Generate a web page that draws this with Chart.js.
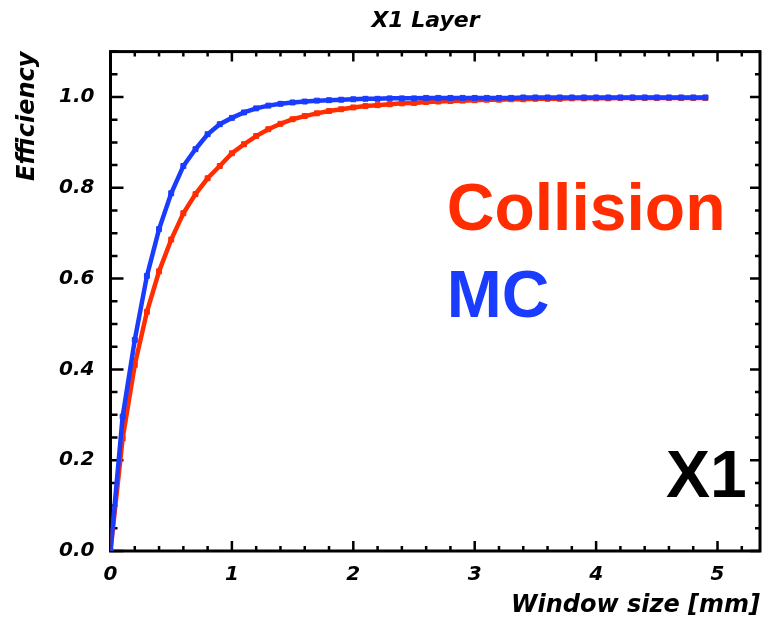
<!DOCTYPE html>
<html>
<head>
<meta charset="utf-8">
<script src="https://cdn.jsdelivr.net/npm/chart.js@4.4.1/dist/chart.umd.min.js"></script>
<style>
  html, body { margin: 0; padding: 0; background: #ffffff; }
  #wrap { width: 765px; height: 624px; }
</style>
</head>
<body>
<div id="wrap"><canvas id="c" width="765" height="624"></canvas></div>
<script>
// ---- data ----
const windowSize = [0.0, 0.1, 0.2, 0.3, 0.4, 0.5, 0.6, 0.7, 0.8, 0.9,
                    1.0, 1.1, 1.2, 1.3, 1.4, 1.5, 1.6, 1.7, 1.8, 1.9,
                    2.0, 2.1, 2.2, 2.3, 2.4, 2.5, 2.6, 2.7, 2.8, 2.9,
                    3.0, 3.1, 3.2, 3.3, 3.4, 3.5, 3.6, 3.7, 3.8, 3.9,
                    4.0, 4.1, 4.2, 4.3, 4.4, 4.5, 4.6, 4.7, 4.8, 4.9];
const collisionEff = [0.000, 0.248, 0.410, 0.527, 0.616, 0.686, 0.744, 0.786, 0.821, 0.848,
                      0.876, 0.896, 0.914, 0.929, 0.941, 0.951, 0.958, 0.964, 0.969, 0.973,
                      0.977, 0.980, 0.982, 0.984, 0.986, 0.987, 0.989, 0.990, 0.991, 0.992,
                      0.993, 0.994, 0.994, 0.995, 0.995, 0.996, 0.996, 0.996, 0.997, 0.997,
                      0.997, 0.997, 0.998, 0.998, 0.998, 0.998, 0.998, 0.998, 0.998, 0.998];
const mcEff = [0.000, 0.296, 0.465, 0.606, 0.709, 0.788, 0.848, 0.885, 0.918, 0.940,
               0.954, 0.966, 0.975, 0.981, 0.985, 0.988, 0.990, 0.992, 0.993, 0.994,
               0.995, 0.996, 0.996, 0.997, 0.997, 0.997, 0.998, 0.998, 0.998, 0.998,
               0.998, 0.998, 0.998, 0.998, 0.999, 0.999, 0.999, 0.999, 0.999, 0.999,
               0.999, 0.999, 0.999, 0.999, 0.999, 0.999, 0.999, 0.999, 0.999, 0.999];
const xTickLabels = [0, 1, 2, 3, 4, 5];
const yTickLabels = [0.0, 0.2, 0.4, 0.6, 0.8, 1.0];
const seriesNames = ['Collision', 'MC'];
const titleText = 'X1 Layer';
const xTitle = 'Window size [mm]';
const yTitle = 'Efficiency';
const panelLabel = 'X1';

// ---- styles ----
const RED = '#ff2d00';
const BLUE = '#1a3cff';
const AX_FONT = 'DejaVu Sans';
const BIG_FONT = 'Liberation Sans';

const toPts = (xs, ys) => xs.map((x, i) => ({ x: x, y: ys[i] }));

// frame + inward ticks (ROOT style), annotations and title
const framePlugin = {
  id: 'frame',
  beforeDatasetsDraw(chart) {
    const { ctx, chartArea: a, scales } = chart;
    const xs = scales.x, ys = scales.y;
    ctx.save();
    ctx.strokeStyle = '#000';
    ctx.lineWidth = 2.5;
    ctx.lineCap = 'butt';
    for (let k = 0; k * 0.2 <= xs.max + 1e-9; k++) {
      const v = k * 0.2;
      const major = (k % 5 === 0);
      const px = xs.getPixelForValue(v);
      const L = major ? 10 : 5;
      ctx.beginPath();
      ctx.moveTo(px, a.bottom); ctx.lineTo(px, a.bottom - L);
      ctx.moveTo(px, a.top); ctx.lineTo(px, a.top + L);
      ctx.stroke();
    }
    for (let k = 0; k * 0.05 <= ys.max + 1e-9; k++) {
      const v = k * 0.05;
      const major = (k % 4 === 0);
      const py = ys.getPixelForValue(v);
      ctx.beginPath();
      ctx.moveTo(a.left, py); ctx.lineTo(a.left + (major ? 13 : 7), py);
      ctx.moveTo(a.right, py); ctx.lineTo(a.right - (major ? 10 : 5), py);
      ctx.stroke();
    }
    ctx.lineWidth = 3;
    ctx.strokeRect(a.left, a.top, a.right - a.left, a.bottom - a.top);
    ctx.restore();
  },
  afterDatasetsDraw(chart) {
    const { ctx, scales, chartArea: a } = chart;
    const xs = scales.x, ys = scales.y;
    ctx.save();
    ctx.textBaseline = 'alphabetic';
    ctx.font = 'bold 66px "' + BIG_FONT + '"';
    ctx.textAlign = 'left';
    ctx.fillStyle = RED;
    ctx.fillText(seriesNames[0], xs.getPixelForValue(2.77), ys.getPixelForValue(0.707));
    ctx.fillStyle = BLUE;
    ctx.fillText(seriesNames[1], xs.getPixelForValue(2.77), ys.getPixelForValue(0.516));
    ctx.fillStyle = '#000';
    ctx.textAlign = 'right';
    ctx.fillText(panelLabel, xs.getPixelForValue(5.24), ys.getPixelForValue(0.119));
    // title
    ctx.font = 'italic bold 22px "' + AX_FONT + '"';
    ctx.textAlign = 'center';
    ctx.textBaseline = 'middle';
    ctx.fillText(titleText, a.left + (a.right - a.left) * 0.485, 21);
    ctx.restore();
  }
};

new Chart(document.getElementById('c'), {
  type: 'line',
  data: {
    datasets: [
      {
        label: seriesNames[1],
        data: toPts(windowSize, mcEff),
        borderColor: BLUE, backgroundColor: BLUE,
        borderWidth: 4.5, pointStyle: 'rect', pointRadius: 3.5, pointBorderWidth: 1,
        tension: 0, order: 0
      },
      {
        label: seriesNames[0],
        data: toPts(windowSize, collisionEff),
        borderColor: RED, backgroundColor: RED,
        borderWidth: 4.5, pointStyle: 'rect', pointRadius: 3.5, pointBorderWidth: 1,
        tension: 0, order: 1
      }
    ]
  },
  options: {
    responsive: false,
    devicePixelRatio: 1,
    animation: false,
    layout: { padding: { left: 0, right: 5, top: 51.6, bottom: 0 } },
    plugins: {
      legend: { display: false },
      tooltip: { enabled: false },
      title: { display: false }
    },
    scales: {
      x: {
        type: 'linear', min: 0, max: 5.35,
        grid: { display: false, drawTicks: false },
        border: { display: false },
        afterBuildTicks: (s) => { s.ticks = xTickLabels.map(v => ({ value: v })); },
        afterFit: (s) => { s.height = 73; },
        ticks: {
          color: '#000', padding: 12, maxRotation: 0,
          font: { family: AX_FONT, size: 20, weight: 'bold', style: 'italic' },
          callback: (v) => String(v)
        },
        title: {
          display: true, text: xTitle, align: 'end', color: '#000',
          font: { family: AX_FONT, size: 24, weight: 'bold', style: 'italic', lineHeight: 1.2 },
          padding: { top: 0, bottom: 4 }
        }
      },
      y: {
        type: 'linear', min: 0, max: 1.1,
        grid: { display: false, drawTicks: false },
        border: { display: false },
        afterBuildTicks: (s) => { s.ticks = yTickLabels.map(v => ({ value: v })); },
        afterFit: (s) => { s.width = 110.5; },
        ticks: {
          color: '#000', padding: 16,
          font: { family: AX_FONT, size: 20, weight: 'bold', style: 'italic' },
          callback: (v) => Number(v).toFixed(1)
        },
        title: {
          display: true, text: yTitle, align: 'end', color: '#000',
          font: { family: AX_FONT, size: 24, weight: 'bold', style: 'italic', lineHeight: 1.2 },
          padding: { top: 13, bottom: 0 }
        }
      }
    }
  },
  plugins: [framePlugin]
});
</script>
</body>
</html>
